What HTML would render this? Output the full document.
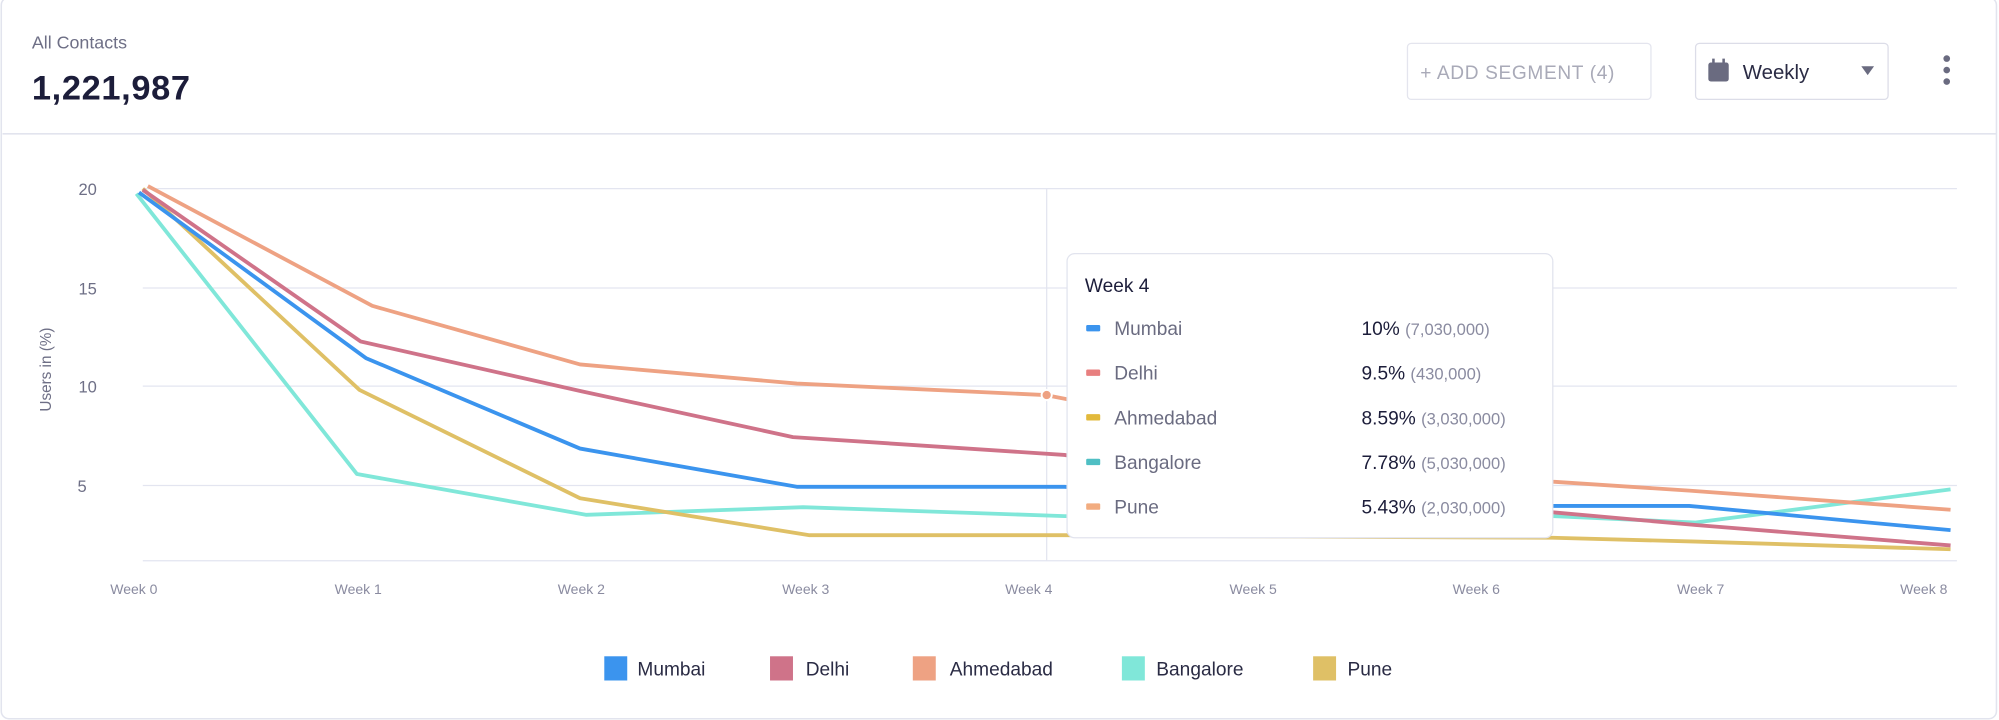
<!DOCTYPE html>
<html><head><meta charset="utf-8"><style>
html,body{margin:0;padding:0;background:#fff;}
svg{display:block;font-family:"Liberation Sans",sans-serif;}
</style></head><body>
<svg width="1999" height="720" viewBox="0 0 1568 565" preserveAspectRatio="none">
<rect x="1" y="-2" width="1565" height="566" rx="6" fill="#fff" stroke="#e2e4ee" stroke-width="1.2"/>
<text x="25" y="38" font-size="14" fill="#6e6f86">All Contacts</text>
<text x="25" y="78" font-size="27" font-weight="bold" fill="#1c1d3a" letter-spacing="0.5">1,221,987</text>
<rect x="1104" y="34" width="191" height="44" rx="3" fill="#fff" stroke="#e4e5ee"/>
<text x="1114" y="62" font-size="15" fill="#a9aab8" letter-spacing="0.5">+ ADD SEGMENT (4)</text>
<rect x="1330" y="34" width="151" height="44" rx="3" fill="#fff" stroke="#dcdde8"/>
<rect x="1340" y="49" width="16" height="15" rx="2" fill="#6a6b80"/>
<rect x="1343" y="46" width="2" height="4" fill="#6a6b80"/><rect x="1351" y="46" width="2" height="4" fill="#6a6b80"/>
<text x="1367" y="62" font-size="16" fill="#2a2b44">Weekly</text>
<path d="M1460 52 L1470 52 L1465 59 Z" fill="#6a6b80"/>
<circle cx="1527" cy="46" r="2.6" fill="#6a6b80"/><circle cx="1527" cy="55" r="2.6" fill="#6a6b80"/><circle cx="1527" cy="64" r="2.6" fill="#6a6b80"/>
<line x1="2" y1="105" x2="1566" y2="105" stroke="#e2e4ee" stroke-width="1.2"/>
<g stroke="#e3e5f0" stroke-width="1">
<line x1="112" y1="148" x2="1535" y2="148"/><line x1="112" y1="226" x2="1535" y2="226"/>
<line x1="112" y1="303" x2="1535" y2="303"/><line x1="112" y1="381" x2="1535" y2="381"/>
<line x1="112" y1="440" x2="1535" y2="440"/>
<line x1="821" y1="148" x2="821" y2="440"/>
</g>
<g font-size="13" fill="#6e6f86" text-anchor="end">
<text x="76" y="153">20</text><text x="76" y="231">15</text><text x="76" y="308">10</text><text x="68" y="386">5</text>
</g>
<text transform="translate(40,290) rotate(-90)" font-size="12" fill="#6e6f86" text-anchor="middle">Users in (%)</text>
<g font-size="11" fill="#8a8ba0" text-anchor="middle">
<text x="105" y="466">Week 0</text><text x="281" y="466">Week 1</text><text x="456" y="466">Week 2</text>
<text x="632" y="466">Week 3</text><text x="807" y="466">Week 4</text><text x="983" y="466">Week 5</text>
<text x="1158" y="466">Week 6</text><text x="1334" y="466">Week 7</text><text x="1509" y="466">Week 8</text>
</g>
<g fill="none" stroke-width="3" stroke-linejoin="round">
<polyline stroke="#80e7d9" points="107,152 280,372 460,404 630,398 835,405 1000,405 1218,405 1330,410 1530,384"/>
<polyline stroke="#dfc066" points="112,148 282,306 455,391 635,420 835,420 1000,421 1218,422 1330,425 1530,431"/>
<polyline stroke="#3b94ee" points="109,151 287,281 455,352 625,382 835,382 1000,394 1218,397 1325,397 1530,416"/>
<polyline stroke="#cf7389" points="112,149 283,268 456,307 622,343 835,357 1000,385 1218,402 1330,412 1530,428"/>
<polyline stroke="#eea283" points="116,146 292,240 455,286 625,301 820,310 1000,345 1218,378 1325,385 1530,400"/>
</g>
<circle cx="821" cy="310" r="4" fill="#eea283" stroke="#fff" stroke-width="1.5"/>
<rect x="837" y="199" width="381" height="223" rx="6" fill="#fff" stroke="#e2e4ee"/>
<text x="851" y="229" font-size="15" fill="#1c1d3a">Week 4</text>
<g font-size="15">
<rect x="852" y="255" width="11" height="5" rx="1" fill="#3b94ee"/><text x="874" y="263" fill="#6a6b80">Mumbai</text><text x="1068" y="263" fill="#1c1d3a">10% <tspan font-size="13" fill="#8a8ba0">(7,030,000)</tspan></text>
<rect x="852" y="290" width="11" height="5" rx="1" fill="#e87f7f"/><text x="874" y="298" fill="#6a6b80">Delhi</text><text x="1068" y="298" fill="#1c1d3a">9.5% <tspan font-size="13" fill="#8a8ba0">(430,000)</tspan></text>
<rect x="852" y="325" width="11" height="5" rx="1" fill="#e2b93b"/><text x="874" y="333" fill="#6a6b80">Ahmedabad</text><text x="1068" y="333" fill="#1c1d3a">8.59% <tspan font-size="13" fill="#8a8ba0">(3,030,000)</tspan></text>
<rect x="852" y="360" width="11" height="5" rx="1" fill="#4fbfc4"/><text x="874" y="368" fill="#6a6b80">Bangalore</text><text x="1068" y="368" fill="#1c1d3a">7.78% <tspan font-size="13" fill="#8a8ba0">(5,030,000)</tspan></text>
<rect x="852" y="395" width="11" height="5" rx="1" fill="#f2ac80"/><text x="874" y="403" fill="#6a6b80">Pune</text><text x="1068" y="403" fill="#1c1d3a">5.43% <tspan font-size="13" fill="#8a8ba0">(2,030,000)</tspan></text>
</g>
<g font-size="15" fill="#2a2b44">
<rect x="474" y="515" width="18" height="19" fill="#3b94ee"/><text x="500" y="530">Mumbai</text>
<rect x="604" y="515" width="18" height="19" fill="#cf7389"/><text x="632" y="530">Delhi</text>
<rect x="716" y="515" width="18" height="19" fill="#eea283"/><text x="745" y="530">Ahmedabad</text>
<rect x="880" y="515" width="18" height="19" fill="#80e7d9"/><text x="907" y="530">Bangalore</text>
<rect x="1030" y="515" width="18" height="19" fill="#dfc066"/><text x="1057" y="530">Pune</text>
</g>
</svg>
</body></html>
